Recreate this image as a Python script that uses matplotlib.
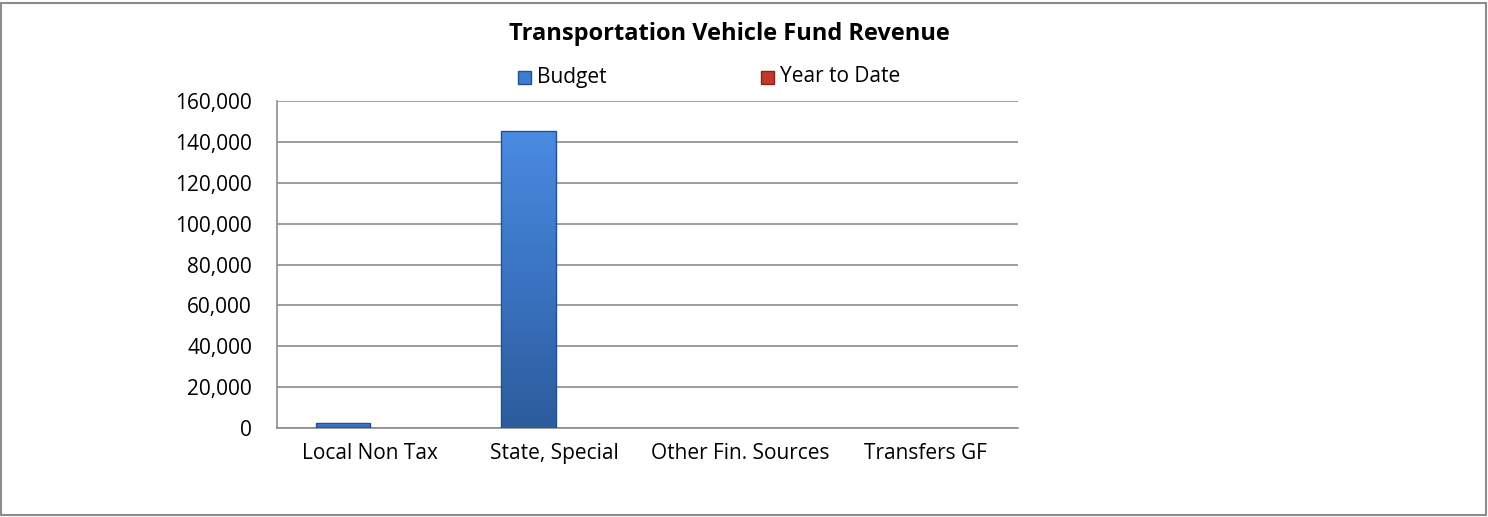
import numpy as np
import matplotlib.pyplot as plt
from matplotlib.patches import Rectangle
from matplotlib.colors import LinearSegmentedColormap

# data
categories = ['Local Non Tax', 'State, Special', 'Other Fin. Sources', 'Transfers GF']
budget = [2300, 145300, 0, 0]
year_to_date = [0, 0, 0, 0]
yticks = [0, 20000, 40000, 60000, 80000, 100000, 120000, 140000, 160000]

plt.rcParams['font.family'] = ['Open Sans', 'DejaVu Sans']

W, H = 1488, 517
fig = plt.figure(figsize=(W / 100, H / 100), dpi=100)
ax = fig.add_axes([277 / W, 1 - 428 / H, (1018 - 277) / W, (428 - 101) / H])

# outer chart frame
fig.patches.append(Rectangle((1 / W, 2 / H), 1485 / W, 512 / H,
                             transform=fig.transFigure, fill=False,
                             edgecolor='#8c8c8c', linewidth=1.5))

blue_cm = LinearSegmentedColormap.from_list('b', ['#2c5c9c', '#3a74c2', '#4a8ae0'])
red_cm = LinearSegmentedColormap.from_list('r', ['#8e2420', '#b8342e', '#d9504a'])

x = np.arange(len(categories))
w = 0.294
off = 0.143


def shaded_bars(xpos, vals, cmap, edge, label):
    bars = ax.bar(xpos, vals, w, color='none', edgecolor=edge, linewidth=1.0,
                  label=label, zorder=4)
    grad = np.linspace(0, 1, 64).reshape(-1, 1)
    for b in bars:
        h = b.get_height()
        if h <= 0:
            # zero values: nothing visible in the original
            b.set_linewidth(0)
            continue
        im = ax.imshow(grad, cmap=cmap, origin='lower', aspect='auto',
                       extent=[b.get_x(), b.get_x() + b.get_width(), 0, h], zorder=3)
        im.set_clip_path(b)
    return bars


shaded_bars(x - off, budget, blue_cm, '#23518f', 'Budget')
shaded_bars(x + off, year_to_date, red_cm, '#8e1f1a', 'Year to Date')

ax.set_xlim(-0.5, len(categories) - 0.5)
ax.set_ylim(0, 160000)
ax.set_yticks(yticks)
ax.set_yticklabels([f'{v:,}' for v in yticks], fontsize=15)
ax.set_xticks(x)
ax.set_xticklabels(categories, fontsize=15)
ax.tick_params(axis='x', length=0, pad=11)
ax.tick_params(axis='y', length=0, pad=18)
ax.grid(axis='y', color='#8c8c8c', linewidth=1.2, zorder=0)
for s in ['top', 'right']:
    ax.spines[s].set_visible(False)
for s in ['left', 'bottom']:
    ax.spines[s].set_color('#8c8c8c')
    ax.spines[s].set_linewidth(1.2)

fig.text(729 / W, 1 - 34 / H, 'Transportation Vehicle Fund Revenue',
         ha='center', va='center', fontsize=17, fontweight='bold')

# legend
fig.patches.append(Rectangle((518 / W, 1 - 84 / H), 13 / W, 13 / H,
                             transform=fig.transFigure, facecolor='#3d7dd0',
                             edgecolor='#23518f'))
fig.text(537 / W, 1 - 77 / H, 'Budget', va='center', fontsize=15)
fig.patches.append(Rectangle((761 / W, 1 - 84 / H), 13 / W, 13 / H,
                             transform=fig.transFigure, facecolor='#c0392b',
                             edgecolor='#8e1f1a'))
fig.text(780 / W, 1 - 77 / H, 'Year to Date', va='center', fontsize=15)

fig.savefig('out.png', dpi=100)
